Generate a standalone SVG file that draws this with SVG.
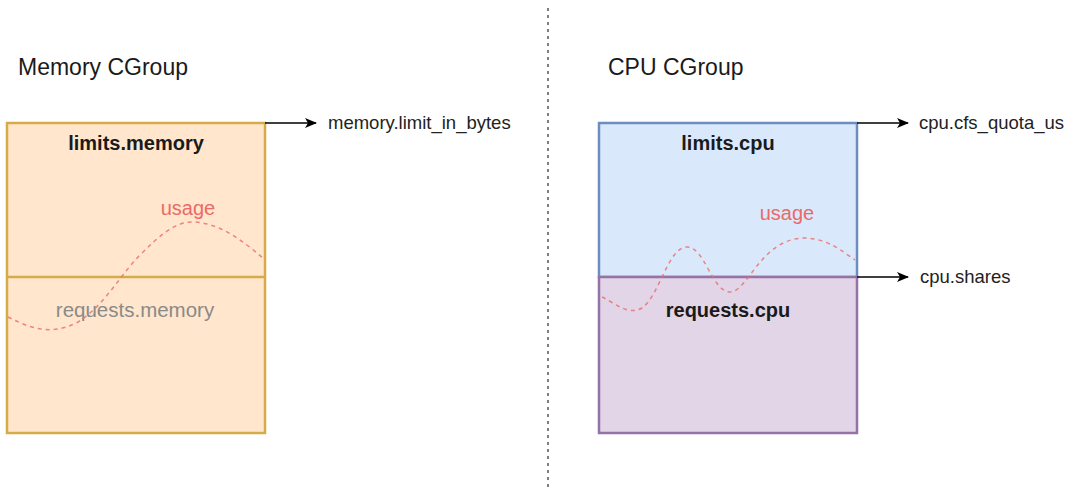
<svg xmlns="http://www.w3.org/2000/svg" width="1080" height="494" viewBox="0 0 1080 494">
<style>
text{font-family:"Liberation Sans",Arial,sans-serif;fill:#1a1a1a}
.title{font-size:23px}
.lbl{font-size:18.5px;fill:#222}
.bold{font-size:20px;font-weight:bold;text-anchor:middle}
.usage{font-size:20px;fill:#ea6b66;text-anchor:middle}
.curve{fill:none;stroke:#ea6b66;stroke-width:1.5;stroke-dasharray:4 4;opacity:0.8}
.conn{stroke:#000;stroke-width:1.5;fill:none}
</style>
<defs>
<marker id="arr" viewBox="0 0 12 12" refX="11" refY="6" markerWidth="12" markerHeight="12" markerUnits="userSpaceOnUse" orient="auto">
<path d="M0,1 L12,6 L0,11 L3,6 Z" fill="#000"/>
</marker>
</defs>
<rect width="1080" height="494" fill="#fff"/>
<line x1="548" y1="8" x2="548" y2="488" stroke="#555" stroke-width="1.5" stroke-dasharray="3 4"/>
<text class="title" x="18" y="75">Memory CGroup</text>
<text class="title" x="608" y="75">CPU CGroup</text>
<g id="memory">
<rect x="7" y="123" width="258" height="310" fill="#ffe6cc" stroke="#d6ac48" stroke-width="2.5"/>
<line x1="7" y1="277" x2="265" y2="277" stroke="#d6ac48" stroke-width="2.5"/>
<text class="bold" x="136" y="150">limits.memory</text>
<text x="135" y="317" style="font-size:20.5px;fill:#8a8a8a;text-anchor:middle">requests.memory</text>
<path class="curve" d="M8,317 C28,327 50,337 78,322 C105,305 120,275 140,255 C160,235 175,222 192,222 C220,222 245,243 263,258"/>
<text class="usage" x="188" y="215">usage</text>
</g>
<g id="cpu">
<rect x="599" y="123" width="258" height="154" fill="#dae8fc" stroke="#6c8ebf" stroke-width="2.5"/>
<rect x="599" y="277" width="258" height="156" fill="#e1d5e7" stroke="#9673a6" stroke-width="2.5"/>
<text class="bold" x="728" y="150">limits.cpu</text>
<text class="bold" x="728" y="317">requests.cpu</text>
<path class="curve" d="M602,297 C615,303 628,316 642,308 C660,295 668,247 687,247 C705,247 712,292 730,292 C748,292 760,240 803,238 C828,238 843,252 855,260"/>
<text class="usage" x="787" y="220">usage</text>
</g>
<g id="connectors">
<line class="conn" x1="265" y1="123" x2="316" y2="123" marker-end="url(#arr)"/>
<line class="conn" x1="857" y1="123" x2="908" y2="123" marker-end="url(#arr)"/>
<line class="conn" x1="857" y1="277" x2="908" y2="277" marker-end="url(#arr)"/>
</g>
<text class="lbl" x="328" y="129">memory.limit_in_bytes</text>
<text class="lbl" x="919" y="129">cpu.cfs_quota_us</text>
<text class="lbl" x="920" y="283">cpu.shares</text>
</svg>
